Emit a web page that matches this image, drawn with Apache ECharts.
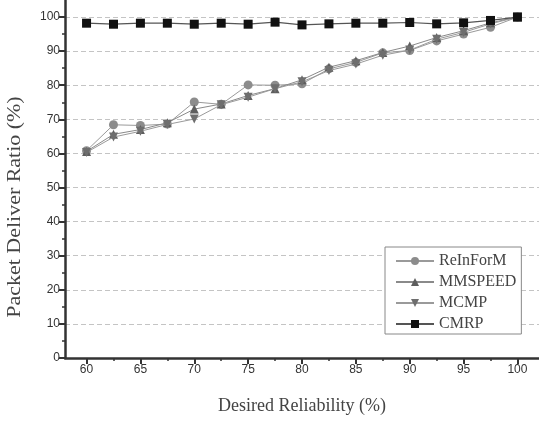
<!DOCTYPE html>
<html>
<head>
<meta charset="utf-8">
<script src="https://cdn.jsdelivr.net/npm/echarts@6/dist/echarts.min.js"></script>
<style>
  html, body { margin: 0; padding: 0; background: #fff; }
  #chart { width: 539px; height: 423px; }
</style>
</head>
<body>
<div id="chart"></div>
<script>
// desired reliability (%)
var reliability = [60, 62.5, 65, 67.5, 70, 72.5, 75, 77.5, 80, 82.5, 85, 87.5, 90, 92.5, 95, 97.5, 100];
var xLabels = [60, 65, 70, 75, 80, 85, 90, 95, 100];
var xMinor = [62.5, 67.5, 72.5, 77.5, 82.5, 87.5, 92.5, 97.5];
var yLabels = [0, 10, 20, 30, 40, 50, 60, 70, 80, 90, 100];

// packet deliver ratio (%)
var reinform = [60.8, 68.4, 68.2, 68.6, 75.1, 74.4, 80.1, 80.0, 80.4, 84.8, 86.7, 89.5, 90.2, 93.0, 95.0, 97.0, 100];
var mmspeed  = [60.6, 65.6, 67.0, 69.0, 73.0, 74.5, 77.0, 79.0, 81.6, 85.3, 87.2, 89.6, 91.5, 94.0, 96.0, 98.3, 100];
var mcmp     = [60.3, 64.8, 66.5, 68.5, 70.1, 74.3, 76.5, 79.0, 81.0, 84.3, 86.2, 88.8, 90.3, 93.5, 95.5, 98.0, 100];
var cmrp     = [98.2, 97.9, 98.2, 98.2, 97.9, 98.2, 97.9, 98.5, 97.7, 98.0, 98.2, 98.2, 98.4, 98.0, 98.3, 99.0, 100];

function pairs(ys) {
  return reliability.map(function (x, i) { return [x, ys[i]]; });
}

var chart = echarts.init(document.getElementById("chart"));

var labelFont = { color: "#333", fontFamily: "Liberation Sans, Arial", fontSize: 12 };
var titleFont = { fill: "#444", fontFamily: "Liberation Serif, Times New Roman", fontSize: 18 };

chart.setOption({
  animation: false,
  backgroundColor: "#fff",
  grid: { left: 65, right: 0, top: -1, bottom: 65 },
  legend: {
    orient: "vertical",
    left: 385,
    top: 247,
    padding: [5, 5, 1, 10],
    itemWidth: 38,
    itemHeight: 10,
    itemGap: 3,
    borderColor: "#888",
    borderWidth: 1,
    backgroundColor: "#fff",
    textStyle: { color: "#444", fontFamily: "Liberation Serif, Times New Roman", fontSize: 16, lineHeight: 18 },
    data: ["ReInForM", "MMSPEED", "MCMP", "CMRP"]
  },
  xAxis: [
    {
      type: "value",
      min: 58,
      max: 102,
      axisLine: { lineStyle: { color: "#333", width: 2.5 } },
      axisTick: { length: 6, lineStyle: { color: "#333", width: 2 }, customValues: xLabels },
      axisLabel: Object.assign({ margin: 6, customValues: xLabels }, labelFont),
      splitLine: { show: false }
    },
    {
      // minor ticks at the half steps
      type: "value",
      position: "bottom",
      min: 58,
      max: 102,
      axisLine: { show: false },
      axisTick: { length: 3, lineStyle: { color: "#333", width: 1.5 }, customValues: xMinor },
      axisLabel: { show: false },
      splitLine: { show: false }
    }
  ],
  yAxis: {
    type: "value",
    min: 0,
    max: 105,
    interval: 10,
    axisLine: { show: true, lineStyle: { color: "#333", width: 2.5 } },
    axisTick: { show: true, length: 6, lineStyle: { color: "#333", width: 2 }, customValues: yLabels },
    minorTick: { show: true, splitNumber: 2, length: 3, lineStyle: { color: "#333", width: 1.5 } },
    axisLabel: Object.assign({ margin: 5, customValues: yLabels }, labelFont),
    splitLine: { show: true, lineStyle: { color: "#c4c4c4", width: 1, type: [5, 3] } }
  },
  graphic: [
    {
      type: "text",
      x: 15,
      y: 207,
      rotation: Math.PI / 2,
      scaleX: 1.22,
      style: Object.assign({ text: "Packet Deliver Ratio (%)", align: "center", verticalAlign: "middle" }, titleFont)
    },
    {
      type: "text",
      x: 302,
      y: 406,
      style: Object.assign({ text: "Desired Reliability (%)", align: "center", verticalAlign: "middle" }, titleFont)
    }
  ],
  series: [
    {
      name: "ReInForM",
      type: "line",
      data: pairs(reinform),
      symbol: "circle",
      symbolSize: 9,
      itemStyle: { color: "#8c8c8c" },
      lineStyle: { color: "#9a9a9a", width: 1 },
      z: 2
    },
    {
      name: "MMSPEED",
      type: "line",
      data: pairs(mmspeed),
      symbol: "triangle",
      symbolSize: 9,
      itemStyle: { color: "#5e5e5e" },
      lineStyle: { color: "#8a8a8a", width: 1 },
      z: 3
    },
    {
      name: "MCMP",
      type: "line",
      data: pairs(mcmp),
      symbol: "triangle",
      symbolRotate: 180,
      symbolSize: 9,
      itemStyle: { color: "#6e6e6e" },
      lineStyle: { color: "#9a9a9a", width: 1 },
      z: 4
    },
    {
      name: "CMRP",
      type: "line",
      data: pairs(cmrp),
      symbol: "rect",
      symbolSize: 9,
      itemStyle: { color: "#111" },
      lineStyle: { color: "#555", width: 1.2 },
      z: 5
    }
  ]
});
</script>
</body>
</html>
